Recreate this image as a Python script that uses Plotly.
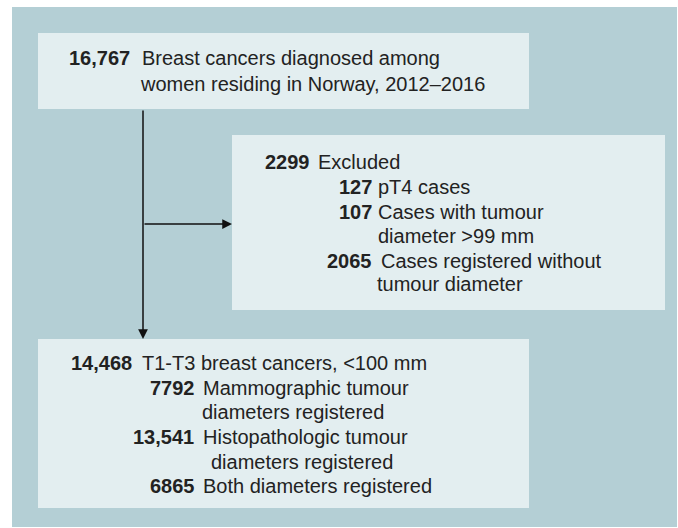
import plotly.graph_objects as go

# ---- data ----
top_count = "16,767"
top_lines = ["Breast cancers diagnosed among", "women residing in Norway, 2012–2016"]

excl_counts = ["2299", "127", "107", "", "2065", ""]
excl_lines = ["Excluded", "pT4 cases", "Cases with tumour", "diameter >99 mm",
              "Cases registered without", "tumour diameter"]

incl_counts = ["14,468", "7792", "", "13,541", "", "6865"]
incl_lines = ["T1-T3 breast cancers, <100 mm", "Mammographic tumour",
              "diameters registered", "Histopathologic tumour",
              "diameters registered", "Both diameters registered"]

W, H = 678, 528
BG = "#b4cfd5"
BOX = "#e3eef0"
TXT = "#222222"
FONT = "Liberation Sans, Arial, sans-serif"
SIZE = 20

fig = go.Figure()
shapes = [
    dict(type="rect", x0=12, y0=7, x1=677, y1=527, fillcolor=BG, line_width=0, layer="below"),
    dict(type="rect", x0=38, y0=33, x1=529, y1=109, fillcolor=BOX, line_width=0, layer="below"),
    dict(type="rect", x0=232, y0=135, x1=665, y1=310, fillcolor=BOX, line_width=0, layer="below"),
    dict(type="rect", x0=38, y0=339, x1=529, y1=508, fillcolor=BOX, line_width=0, layer="below"),
]

ann = []

def add_line(x, y, text, anchor, bold=False):
    ann.append(dict(x=x, y=y, xref="x", yref="y", text=("<b>%s</b>" % text) if bold else text,
                    showarrow=False, xanchor=anchor, yanchor="middle",
                    borderpad=0, borderwidth=0,
                    font=dict(family=FONT, size=SIZE, color=TXT)))

# box 1
top_y = [58, 84]
add_line(130, top_y[0], top_count, "right", True)
top_x = [142, 140]
for i, t in enumerate(top_lines):
    add_line(top_x[i], top_y[i], t, "left")

# box 2
excl_y = [162, 187, 212, 236, 261, 284]
excl_num_x = [310, 372, 372, 372, 372, 372]
excl_txt_x = [318, 378, 378, 378, 381, 377]
for i, (c, t) in enumerate(zip(excl_counts, excl_lines)):
    if c:
        add_line(excl_num_x[i], excl_y[i], c, "right", True)
    add_line(excl_txt_x[i], excl_y[i], t, "left")

# box 3
incl_y = [363, 387.5, 412, 437, 462, 485.5]
incl_num_x = [132, 195, 195, 194, 194, 195]
incl_txt_x = [142, 203, 202, 203, 211, 203]
for i, (c, t) in enumerate(zip(incl_counts, incl_lines)):
    if c:
        add_line(incl_num_x[i], incl_y[i], c, "right", True)
    add_line(incl_txt_x[i], incl_y[i], t, "left")

# arrows
for (hx, hy, tx, ty) in [(143, 339, 143, 109), (232, 224, 143, 224)]:
    ann.append(dict(x=hx, y=hy, ax=tx, ay=ty, xref="x", yref="y", axref="x", ayref="y",
                    text="", showarrow=True, arrowhead=2, arrowsize=1.3, arrowwidth=1.5,
                    arrowcolor="#111111", standoff=0, startstandoff=0))

fig.update_layout(
    width=W, height=H, margin=dict(l=0, r=0, t=0, b=0),
    paper_bgcolor="white", plot_bgcolor="white",
    xaxis=dict(range=[0, W], visible=False, fixedrange=True),
    yaxis=dict(range=[H, 0], visible=False, fixedrange=True),
    shapes=shapes, annotations=ann, showlegend=False,
)
fig.write_html("out.html", config={"displayModeBar": False},
               post_script="document.body.style.margin='0';")
